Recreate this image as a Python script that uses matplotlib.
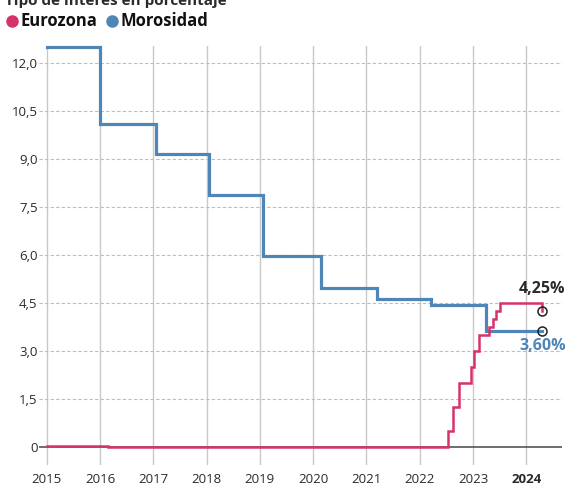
import matplotlib.pyplot as plt
from matplotlib.lines import Line2D

plt.rcParams['font.family'] = ['Open Sans', 'DejaVu Sans']

# Morosidad (step series)
blue_x = [2015.0, 2016.0, 2017.06, 2018.04, 2019.06, 2020.14, 2021.2, 2022.22, 2023.24, 2024.3]
blue_y = [12.5, 10.1, 9.17, 7.88, 5.98, 4.97, 4.63, 4.45, 3.65, 3.65]

# Eurozona interest rate (step series)
red_x = [2015.0, 2016.15, 2022.53, 2022.63, 2022.74, 2022.97, 2023.02, 2023.12,
         2023.3, 2023.37, 2023.43, 2023.5, 2024.3, 2024.3]
red_y = [0.05, 0.0, 0.5, 1.25, 2.0, 2.5, 3.0, 3.5, 3.75, 4.0, 4.25, 4.5, 4.5, 4.25]

years = list(range(2015, 2025))
yticks = [0, 1.5, 3.0, 4.5, 6.0, 7.5, 9.0, 10.5, 12.0]
ytick_labels = ['0', '1,5', '3,0', '4,5', '6,0', '7,5', '9,0', '10,5', '12,0']

red = '#d6336c'
blue = '#4f86b8'
txt = '#2a2a2a'

fig = plt.figure(figsize=(5.65, 4.9), dpi=100)
ax = fig.add_axes([39 / 565, (490 - 465) / 490, 523 / 565, (465 - 46) / 490])
ax.set_xlim(2014.856, 2024.67)
ax.set_ylim(-0.55, 12.54)

for s in ax.spines.values():
    s.set_visible(False)

# grid
for yr in years:
    ax.axvline(yr, color='#c9c9c9', lw=1, zorder=1)
for v in yticks[1:]:
    ax.axhline(v, color='#bdbdbd', lw=0.8, ls=(0, (3, 2)), zorder=1)
ax.axhline(0, color='#555555', lw=1.2, zorder=2)

ax.plot(blue_x, blue_y, drawstyle='steps-post', color=blue, lw=2.3, zorder=3,
        clip_on=False, solid_joinstyle='miter')
ax.plot(red_x, red_y, drawstyle='steps-post', color=red, lw=1.8, zorder=4,
        clip_on=False, solid_joinstyle='miter')

ax.plot(blue_x[-1], blue_y[-1], 'o', ms=6.5, mfc='none', mec='#222222', mew=1.1, zorder=5)
ax.plot(red_x[-1], red_y[-1], 'o', ms=6.5, mfc='none', mec='#222222', mew=1.1, zorder=5)

ax.text(2024.3, 4.95, '4,25%', ha='center', va='center', fontsize=11.5,
        fontweight='bold', color=txt, clip_on=False)
ax.text(2024.3, 3.18, '3,60%', ha='center', va='center', fontsize=11.5,
        fontweight='bold', color=blue, clip_on=False)

ax.set_xticks(years)
ax.set_xticklabels([str(y) for y in years], fontsize=9.5, color=txt)
ax.get_xticklabels()[-1].set_fontweight('bold')
ax.set_yticks(yticks)
ax.set_yticklabels(ytick_labels, fontsize=9.5, color=txt)
ax.tick_params(axis='x', length=0, pad=6)
ax.tick_params(axis='y', length=0, pad=1)

# header (the title sits partly above the top edge, as in the source)
fig.text(0.008, 0.998, 'Tipo de interés en porcentaje', ha='left', va='center',
         fontsize=11, fontweight='bold', color=txt)
yleg = 1 - 21 / 490
fig.add_artist(Line2D([12 / 565], [yleg], marker='o', ms=8, color=red, lw=0))
fig.text(21 / 565, yleg, 'Eurozona', ha='left', va='center', fontsize=12,
         fontweight='bold', color='#111111')
fig.add_artist(Line2D([112 / 565], [yleg], marker='o', ms=8, color=blue, lw=0))
fig.text(121 / 565, yleg, 'Morosidad', ha='left', va='center', fontsize=12,
         fontweight='bold', color='#111111')

fig.savefig('out.png', dpi=100)
